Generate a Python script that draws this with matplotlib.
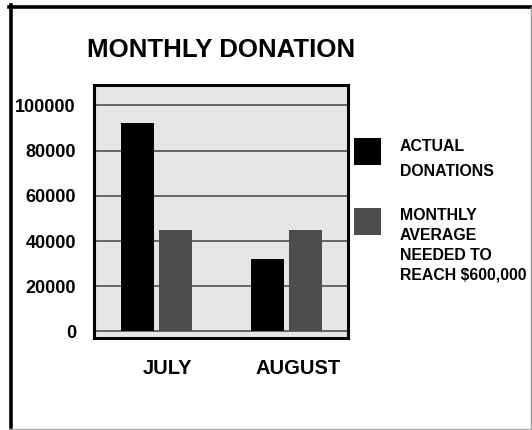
import matplotlib
matplotlib.use("Agg")
import matplotlib.pyplot as plt
from matplotlib.patches import Rectangle
from matplotlib.lines import Line2D
from matplotlib.transforms import ScaledTranslation
import numpy as np

# ---- data ----
months = ["JULY", "AUGUST"]
actual_donations = [92000, 32000]
monthly_needed = [45000, 45000]
y_ticks = [0, 20000, 40000, 60000, 80000, 100000]
series_labels = ["ACTUAL\nDONATIONS", "MONTHLY\nAVERAGE\nNEEDED TO\nREACH \\$600,000"]
title = "MONTHLY DONATION"

# ---- style ----
W, H = 532, 430
DPI = 100
FONT = "Liberation Sans"
c_actual = "#000000"
c_needed = "#4d4d4d"

fig = plt.figure(figsize=(W / DPI, H / DPI), dpi=DPI)
fig.patch.set_facecolor("white")

def fx(px):
    return px / W

def fy(py):
    return 1 - py / H

ax = fig.add_axes([fx(94), fy(338), fx(348.3) - fx(94), fy(85) - fy(338)])
ax.set_facecolor("#e6e6e6")

x = np.arange(len(months))
off = 0.1466
bw = 0.253
ax.bar(x - off, actual_donations, bw, color=c_actual, zorder=3)
ax.bar(x + off, monthly_needed, bw, color=c_needed, zorder=3)

ax.set_xlim(-0.476, 1.471)
ax.set_ylim(-2900, 109000)

ax.set_yticks(y_ticks)
ax.set_yticklabels([str(v) for v in y_ticks], fontfamily=FONT, fontweight="bold", fontsize=13)
ax.tick_params(axis="y", length=0, pad=13)
ax.yaxis.grid(True, color="#444444", linewidth=1.1, zorder=1)
ax.set_axisbelow(True)

ax.set_xticks(x)
ax.set_xticklabels(months, fontfamily=FONT, fontweight="bold", fontsize=14.5)
ax.tick_params(axis="x", length=0, pad=15)
shift = ScaledTranslation(11 / DPI, 0, fig.dpi_scale_trans)
for lab in ax.get_xticklabels():
    lab.set_transform(lab.get_transform() + shift)

for s in ax.spines.values():
    s.set_linewidth(2.2)
    s.set_color("black")

# title
fig.text(fx(87), fy(50), title, fontfamily=FONT, fontweight="bold", fontsize=18.6,
         ha="left", va="center")

# legend (manual layout, colours tied to series)
leg_items = [
    (c_actual, series_labels[0], 138, 146.5, 25),
    (c_needed, series_labels[1], 208, 215, 20),
]
for col, lab, top, text_y, lsp in leg_items:
    fig.add_artist(Rectangle((fx(354), fy(top + 27)), fx(27), fy(0) - fy(27),
                             transform=fig.transFigure, facecolor=col, edgecolor="none"))
    for i, line in enumerate(lab.split("\n")):
        fig.text(fx(400), fy(text_y + i * lsp), line, fontfamily=FONT, fontweight="bold",
                 fontsize=11.4, ha="left", va="center")

# outer frame
fig.add_artist(Line2D([fx(10.5), fx(10.5)], [fy(5), fy(430)], transform=fig.transFigure,
                      color="black", linewidth=2.6))
fig.add_artist(Line2D([fx(9), fx(532)], [fy(6.5), fy(6.5)], transform=fig.transFigure,
                      color="black", linewidth=2.6))
fig.add_artist(Line2D([fx(530.5), fx(530.5)], [fy(6.5), fy(430)], transform=fig.transFigure,
                      color="#999999", linewidth=1.0))
fig.add_artist(Line2D([fx(9), fx(532)], [fy(428.5), fy(428.5)], transform=fig.transFigure,
                      color="#aaaaaa", linewidth=1.0))

fig.savefig("out.png", dpi=DPI)
